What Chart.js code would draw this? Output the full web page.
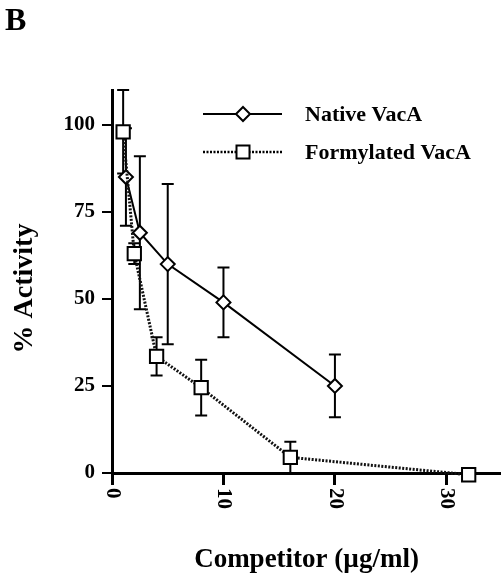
<!DOCTYPE html>
<html>
<head>
<meta charset="utf-8">
<script src="https://cdn.jsdelivr.net/npm/chart.js@4/dist/chart.umd.min.js"></script>
<style>
  body { margin: 0; background: #fff; }
  #wrap { width: 501px; height: 573px; }
</style>
</head>
<body>
<div id="wrap"><canvas id="chart" width="501" height="573"></canvas></div>
<script>
const panelLabel = 'B';
const seriesNames = ['Native VacA', 'Formylated VacA'];

// Native VacA
const nativeX = [1.25, 2.5, 5, 10, 20];
const nativeY = [85, 69, 60, 49, 25];
const nativeErr = [14, 22, 23, 10, 9];

// Formylated VacA
const formX = [1, 2, 4, 8, 16, 32];
const formY = [98, 63, 33.5, 24.5, 4.5, -0.5];
const formErr = [12, 3, 5.5, 8, 4.5, 0];

const xTicks = [0, 10, 20, 30];
const yTicks = [0, 25, 50, 75, 100];

const serif = "'Liberation Serif', 'DejaVu Serif', serif";

function pts(xs, ys) {
  return xs.map((x, i) => ({ x: x, y: ys[i] }));
}

// vertical error bars, drawn under the markers
const errorBars = {
  id: 'errorBars',
  beforeDatasetsDraw(chart) {
    const { ctx, scales: { x, y } } = chart;
    const sets = [[nativeX, nativeY, nativeErr], [formX, formY, formErr]];
    ctx.save();
    ctx.strokeStyle = '#000';
    ctx.lineWidth = 2;
    sets.forEach(([xs, ys, es]) => {
      xs.forEach((v, i) => {
        if (!es[i]) return;
        const px = x.getPixelForValue(v);
        const top = y.getPixelForValue(ys[i] + es[i]);
        const bot = y.getPixelForValue(ys[i] - es[i]);
        ctx.beginPath();
        ctx.moveTo(px, top); ctx.lineTo(px, bot);
        ctx.moveTo(px - 6, top); ctx.lineTo(px + 6, top);
        ctx.moveTo(px - 6, bot); ctx.lineTo(px + 6, bot);
        ctx.stroke();
      });
    });
    ctx.restore();
  }
};

// panel letter, rotated x tick labels and the line+marker legend
const extras = {
  id: 'extras',
  afterDraw(chart) {
    const { ctx, scales: { x }, chartArea } = chart;
    ctx.save();
    ctx.fillStyle = '#000';
    ctx.font = 'bold 32px ' + serif;
    ctx.textBaseline = 'alphabetic';
    ctx.fillText(panelLabel, 5, 30);

    ctx.font = 'bold 21px ' + serif;
    ctx.textBaseline = 'middle';
    ctx.textAlign = 'left';
    xTicks.forEach(v => {
      ctx.save();
      ctx.translate(x.getPixelForValue(v), chartArea.bottom + 15);
      ctx.rotate(Math.PI / 2);
      ctx.fillText(String(v), 0, 0);
      ctx.restore();
    });

    const rows = [
      { y: chartArea.top + 24, dash: [], width: 2, style: 'diamond' },
      { y: chartArea.top + 62, dash: [2, 1.5], width: 2.5, style: 'square' }
    ];
    const x0 = 203, x1 = 282, mx = 243;
    ctx.font = 'bold 22px ' + serif;
    rows.forEach((r, i) => {
      ctx.strokeStyle = '#000';
      ctx.lineWidth = r.width;
      ctx.setLineDash(r.dash);
      ctx.beginPath();
      ctx.moveTo(x0, r.y); ctx.lineTo(x1, r.y);
      ctx.stroke();
      ctx.setLineDash([]);
      ctx.lineWidth = 2;
      ctx.fillStyle = '#fff';
      ctx.beginPath();
      if (r.style === 'diamond') {
        ctx.moveTo(mx, r.y - 7); ctx.lineTo(mx + 7, r.y);
        ctx.lineTo(mx, r.y + 7); ctx.lineTo(mx - 7, r.y);
        ctx.closePath();
      } else {
        ctx.rect(mx - 6.5, r.y - 6.5, 13, 13);
      }
      ctx.fill(); ctx.stroke();
      ctx.fillStyle = '#000';
      ctx.fillText(seriesNames[i], 305, r.y + 1);
    });
    ctx.restore();
  }
};

new Chart(document.getElementById('chart'), {
  type: 'scatter',
  data: {
    datasets: [
      {
        label: seriesNames[1],
        data: pts(formX, formY),
        showLine: true,
        borderColor: '#111',
        borderWidth: 3,
        borderDash: [2, 1.5],
        pointStyle: 'rect',
        pointRadius: 9.4,
        pointBorderWidth: 2,
        pointBorderColor: '#000',
        pointBackgroundColor: '#fff',
        clip: false
      },
      {
        label: seriesNames[0],
        data: pts(nativeX, nativeY),
        showLine: true,
        borderColor: '#000',
        borderWidth: 2,
        pointStyle: 'rectRot',
        pointRadius: 7,
        pointBorderWidth: 2,
        pointBorderColor: '#000',
        pointBackgroundColor: '#fff',
        clip: false
      }
    ]
  },
  options: {
    responsive: false,
    animation: false,
    layout: { autoPadding: false, padding: { top: 90, left: 0, right: 0, bottom: 0 } },
    plugins: {
      legend: { display: false },
      tooltip: { enabled: false }
    },
    scales: {
      x: {
        type: 'linear',
        min: 0,
        max: 34.9,
        afterBuildTicks: s => { s.ticks = xTicks.map(v => ({ value: v })); },
        afterFit: s => { s.height = 100; },
        border: { color: '#000', width: 3 },
        grid: { drawOnChartArea: false, color: '#000', lineWidth: 3, tickLength: 12 },
        ticks: { display: false },
        title: {
          display: true,
          text: 'Competitor (µg/ml)',
          color: '#000',
          font: { family: serif, size: 27, weight: 'bold' },
          padding: { top: 0, bottom: -3 }
        }
      },
      y: {
        type: 'linear',
        min: 0,
        max: 110,
        afterBuildTicks: s => { s.ticks = yTicks.map(v => ({ value: v })); },
        afterFit: s => { s.width = 112; },
        border: { color: '#000', width: 3 },
        grid: { drawOnChartArea: false, color: '#000', lineWidth: 2, tickLength: 10 },
        ticks: {
          color: '#000',
          padding: 7,
          font: { family: serif, size: 21, weight: 'bold' }
        },
        title: {
          display: true,
          text: '% Activity  ',
          color: '#000',
          font: { family: serif, size: 28, weight: 'bold' },
          padding: { top: 8, bottom: 0 }
        }
      }
    }
  },
  plugins: [errorBars, extras]
});
</script>
</body>
</html>
